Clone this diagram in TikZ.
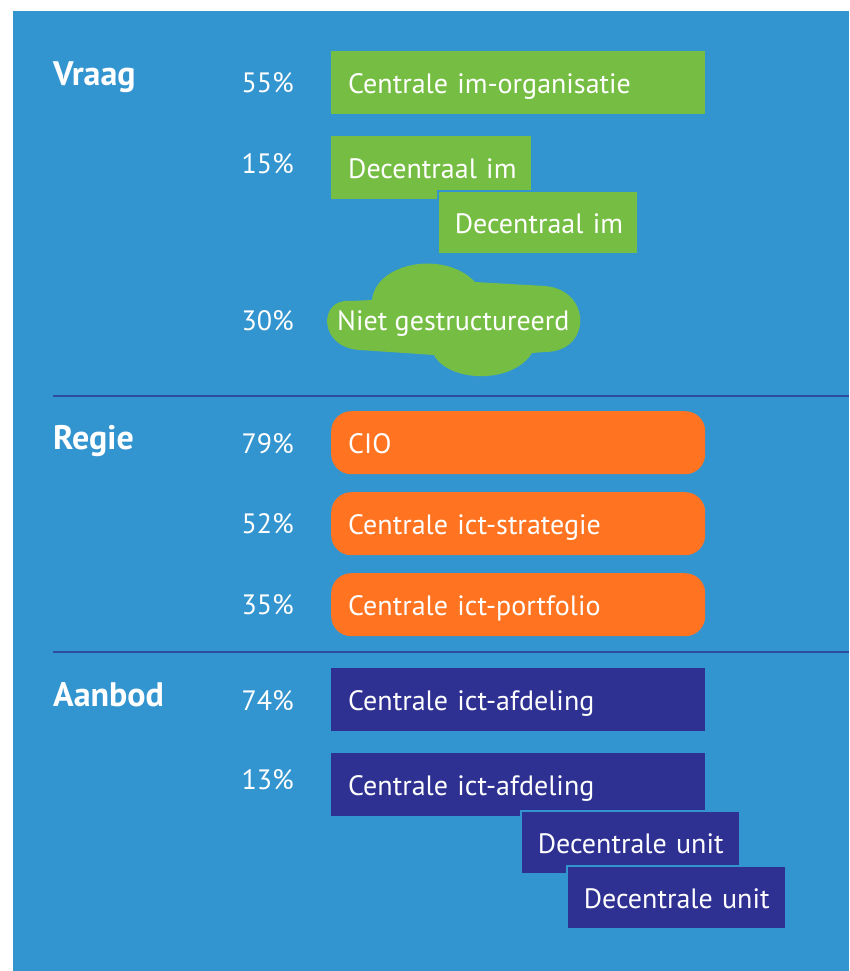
\documentclass[tikz,border=0pt]{standalone}
\usepackage{fontspec}
\setmainfont{PT Sans}
\usepackage{tikz}
\usetikzlibrary{positioning}
\definecolor{bgblue}{HTML}{3395D0}
\definecolor{imgreen}{HTML}{76BE43}
\definecolor{regieorange}{HTML}{FF7321}
\definecolor{aanbodblue}{HTML}{2E3192}
\definecolor{rulerblue}{HTML}{2D4B9F}
\tikzstyle{heading}=[text=white, font=\fontsize{34}{38}\selectfont\bfseries,
  anchor=base west, inner sep=0pt]
\tikzstyle{pct}=[text=white, font=\fontsize{28}{32}\selectfont,
  anchor=base east, inner sep=0pt]
\tikzstyle{bar} =
  [text=white, font=\fontsize{28}{32}\selectfont, anchor=north west,
   inner xsep=17pt, inner ysep=0pt, text height=22pt, text depth=0pt,
   minimum height=63pt, align=left]
\tikzstyle{vraagbox}=[bar, fill=imgreen]
\tikzstyle{regiebox}=[bar, fill=regieorange, rounded corners=20pt]
\tikzstyle{aanbodbox}=[bar, fill=aanbodblue]
\tikzstyle{stacked}=[draw=bgblue, line width=1.5pt]
\tikzstyle{divider}=[draw=rulerblue, line width=2pt]

\begin{document}
\begin{tikzpicture}[x=1pt, y=-1pt]
  \useasboundingbox (0,0) rectangle (849,971);
  \fill [bgblue] (13,11) rectangle (849,971);

  % Vraag
  \node [heading] (vraag) at (53,86) {Vraag};
  \node [vraagbox, text width=340pt] (v1) at (331,51) {Centrale im-organisatie};
  \node [vraagbox, text width=166pt] (v2) at (331,136) {\mbox{Decentraal im}};
  \node [vraagbox, stacked, text width=166pt] (v3) at (437,190) {\mbox{Decentraal im}};
  \fill [imgreen] (372,300) .. controls (376,262) and (445,250) .. (475,282)
    -- (545,286) .. controls (592,290) and (592,352) .. (545,352)
    -- (532,353) .. controls (512,385) and (448,382) .. (434,355)
    -- (360,350) .. controls (318,348) and (318,298) .. (350,301) -- cycle;
  \node [text=white, font=\fontsize{28}{32}\selectfont, anchor=base west,
    inner sep=0pt] (v4) at (337,330) {Niet gestructureerd};
  \node [pct] (p55) at (294,93) {55\%};
  \node [pct] (p15) at (294,173) {15\%};
  \node [pct] (p30) at (294,330) {30\%};

  \coordinate (d1l) at (53,396);
  \coordinate (d1r) at (849,396);
  \draw [divider] (d1l) -- (d1r);

  % Regie
  \node [heading] (regie) at (53,449) {Regie};
  \node [regiebox, text width=340pt] (r1) at (331,411) {CIO};
  \node [regiebox, text width=340pt] (r2) at (331,492) {Centrale ict-strategie};
  \node [regiebox, text width=340pt] (r3) at (331,573) {Centrale ict-portfolio};
  \node [pct] (p79) at (294,453) {79\%};
  \node [pct] (p52) at (294,533) {52\%};
  \node [pct] (p35) at (294,614) {35\%};

  \coordinate (d2l) at (53,652);
  \coordinate (d2r) at (849,652);
  \draw [divider] (d2l) -- (d2r);

  % Aanbod
  \node [heading] (aanbod) at (53,706) {Aanbod};
  \node [aanbodbox, text width=340pt] (a1) at (331,668) {Centrale ict-afdeling};
  \node [aanbodbox, text width=340pt] (a2) at (331,753) {Centrale ict-afdeling};
  \node [aanbodbox, stacked, text width=185pt] (a3) at (520,810) {\mbox{Decentrale unit}};
  \node [aanbodbox, stacked, text width=185pt] (a4) at (566,865) {\mbox{Decentrale unit}};
  \node [pct] (p74) at (294,710) {74\%};
  \node [pct] (p13) at (294,789) {13\%};
\end{tikzpicture}
\end{document}
